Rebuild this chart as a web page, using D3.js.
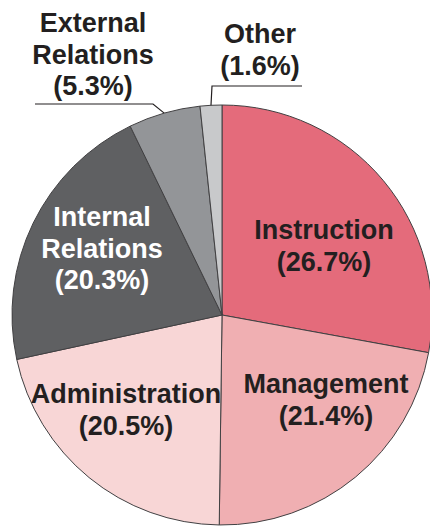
<!DOCTYPE html>
<html>
<head>
<meta charset="utf-8">
<script src="https://cdn.jsdelivr.net/npm/d3@7"></script>
<style>
  html, body { margin: 0; padding: 0; background: #ffffff; }
  svg { display: block; }
  text { font-family: "Liberation Sans", Arial, Helvetica, sans-serif; font-weight: bold; }
</style>
</head>
<body>
<div id="chart"></div>
<script>
// ---- data ----
const categories = ["Instruction", "Management", "Administration", "Internal Relations", "External Relations", "Other"];
const labelLines = [["Instruction"], ["Management"], ["Administration"], ["Internal", "Relations"], ["External", "Relations"], ["Other"]];
const values = [26.7, 21.4, 20.5, 20.3, 5.3, 1.6];
const colors = ["#e46b7b", "#f0afb2", "#f8d6d6", "#5f6062", "#939598", "#c8c9cb"];
const textColors = ["#231f20", "#231f20", "#231f20", "#ffffff", "#231f20", "#231f20"];

// ---- layout ----
const W = 430, H = 526;
const cx = 222, cy = 315, R = 210;
const fontSize = 27, lineH = 31.5;
// label anchor: x center, baseline of first line
const labelPos = [
  {x: 324, y: 239},
  {x: 326, y: 393},
  {x: 126, y: 403},
  {x: 102, y: 226},
  {x: 93,  y: 32},
  {x: 260, y: 43}
];
// leader lines for outside labels
const leaders = {
  4: {hx0: 35, hx1: 153, hy: 104},
  5: {hx0: 302, hx1: 212, hy: 86}
};

const svg = d3.select("#chart").append("svg")
  .attr("width", W).attr("height", H);

const pie = d3.pie().sort(null).value(d => d)
  .startAngle(0).endAngle(2 * Math.PI);
const arcs = pie(values);
const arc = d3.arc().innerRadius(0).outerRadius(R);

const g = svg.append("g").attr("transform", `translate(${cx},${cy})`);
g.selectAll("path.slice")
  .data(arcs)
  .join("path")
  .attr("class", "slice")
  .attr("d", arc)
  .attr("fill", (d, i) => colors[i])
  .attr("stroke", "#414042")
  .attr("stroke-width", 1);

// leader lines
Object.keys(leaders).forEach(k => {
  const i = +k;
  const a = arcs[i];
  const mid = (a.startAngle + a.endAngle) / 2;
  const px = cx + R * Math.sin(mid);
  const py = cy - R * Math.cos(mid);
  const L = leaders[k];
  const pts = [[L.hx0, L.hy], [L.hx1, L.hy], [px, py]];
  svg.append("path")
    .attr("d", d3.line()(pts))
    .attr("fill", "none")
    .attr("stroke", "#231f20")
    .attr("stroke-width", 1.2);
});

// labels
arcs.forEach((a, i) => {
  const pct = "(" + values[i].toFixed(1) + "%)";
  const lines = labelLines[i].concat([pct]);
  const t = svg.append("text")
    .attr("text-anchor", "middle")
    .attr("font-size", fontSize)
    .attr("fill", textColors[i]);
  lines.forEach((ln, j) => {
    t.append("tspan")
      .attr("x", labelPos[i].x)
      .attr("y", labelPos[i].y + j * lineH)
      .text(ln);
  });
});
</script>
</body>
</html>
